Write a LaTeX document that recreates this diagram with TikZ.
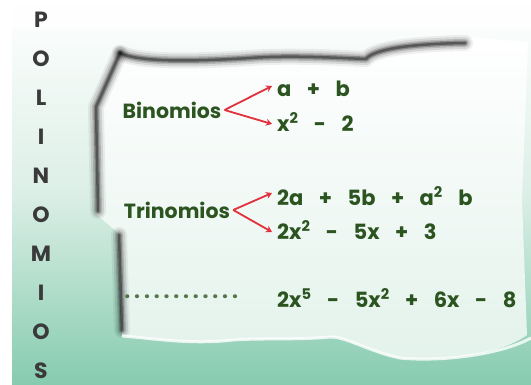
\documentclass[tikz,border=0pt]{standalone}
\usepackage{fontspec}
\setmainfont{Poppins}
\usetikzlibrary{arrows.meta,positioning,calc}
\definecolor{termgreen}{HTML}{2C5420}
\definecolor{arrowred}{HTML}{E2303C}
\definecolor{lettergrey}{HTML}{3A3A3A}
\definecolor{seagreen}{HTML}{86CBB0}
\definecolor{mintpale}{HTML}{DCEFE6}
\newcommand\widespacing{\spaceskip=15.5pt plus 2pt\relax}

\begin{document}
\begin{tikzpicture}[x=1pt, y=-1pt,
  term/.style={anchor=west, inner sep=0pt, text=termgreen, font=\fontsize{21}{21}\selectfont\bfseries\widespacing},
  kind/.style={inner sep=0pt, text=termgreen, font=\fontsize{20.5}{20.5}\selectfont\bfseries},
  letter/.style={inner sep=0pt, text=lettergrey, font=\fontsize{22}{22}\selectfont\bfseries},
  branch/.style={-{Stealth[length=6pt, width=7pt]}, arrowred, line width=1.8pt, line join=miter},
  shadow/.style={line cap=round, line join=round, black}
]
\useasboundingbox (0,0) rectangle (531,385);

% background
\shade[top color=white, bottom color=seagreen, middle color=mintpale] (0,0) rectangle (531,385);
\fill[white] (0,0) rectangle (12,385);
\shade[top color=white, bottom color=white, opacity=0.9] (12,0) rectangle (531,28);

% torn sheet
\shade[top color=white, bottom color=mintpale!80!white]
  (118,47) .. controls (140,58) and (200,56) .. (250,52)
  .. controls (290,49) and (340,52) .. (365,53)
  .. controls (372,45) and (400,38) .. (465,37)
  -- (528,42) -- (522,200) -- (527,335)
  .. controls (500,355) and (440,362) .. (400,358)
  .. controls (370,352) and (345,336) .. (330,337)
  .. controls (300,340) and (260,338) .. (233,340)
  .. controls (190,345) and (150,338) .. (122,336)
  -- (117,232) -- (96,214) -- (91,106) -- cycle;

% sheet edges with a soft shadow
\foreach \w/\o in {16/0.06, 12/0.1, 8/0.15, 5/0.25, 2.5/0.35} {
  \draw[shadow, line width=\w pt, opacity=\o]
    (120,53) .. controls (140,63) and (200,61) .. (250,58)
    .. controls (290,55) and (340,58) .. (366,59)
    .. controls (372,51) and (400,44) .. (465,43);
  \draw[shadow, line width=\w pt, opacity=\o]
    (120,53) -- (96,107) -- (98,211);
  \draw[shadow, line width=\w pt, opacity=\o]
    (119,235) -- (122,330);
}
% white crest of the lower edge
\draw[white, line width=3pt, opacity=0.8]
  (122,336) .. controls (150,338) and (190,345) .. (233,340)
  .. controls (260,338) and (300,340) .. (330,337)
  .. controls (345,336) and (370,352) .. (400,358)
  .. controls (440,362) and (500,355) .. (531,338);

% title letters
\foreach \ch [count=\i from 0] in {P,O,L,I,N,O,M,I,O,S}
  \node[letter] (title\i) at (41,{20+39*\i}) {\ch};

% binomials
\node[kind] (bin) at (172,110) {Binomios};
\node[term] (bin1) at (277,89) {a + b};
\node[term] (bin2) at (277,122) {x\textsuperscript{2} - 2};
\draw[branch] ([xshift=3pt]bin.east) -- ([xshift=-5pt,yshift=3pt]bin1.west);
\draw[branch] ([xshift=3pt]bin.east) -- ([xshift=-5pt,yshift=-2pt]bin2.west);

% trinomials
\node[kind] (tri) at (177,210) {Trinomios};
\node[term] (tri1) at (277,196) {2a + 5b + a\textsuperscript{2} b};
\node[term] (tri2) at (277,230) {2x\textsuperscript{2} - 5x + 3};
\draw[branch] ([xshift=3pt]tri.east) -- ([xshift=-5pt,yshift=3pt]tri1.west);
\draw[branch] ([xshift=3pt]tri.east) -- ([xshift=-5pt,yshift=-2pt]tri2.west);

% polynomial
\node[term, text=termgreen!80] (dots) at (122,297)
  {\hbox to 118pt{\xleaders\hbox to 9.1pt{\hss.\hss}\hfill}};
\node[term] (poly) at (277,298) {2x\textsuperscript{5} - 5x\textsuperscript{2} + 6x - 8};

\end{tikzpicture}
\end{document}
